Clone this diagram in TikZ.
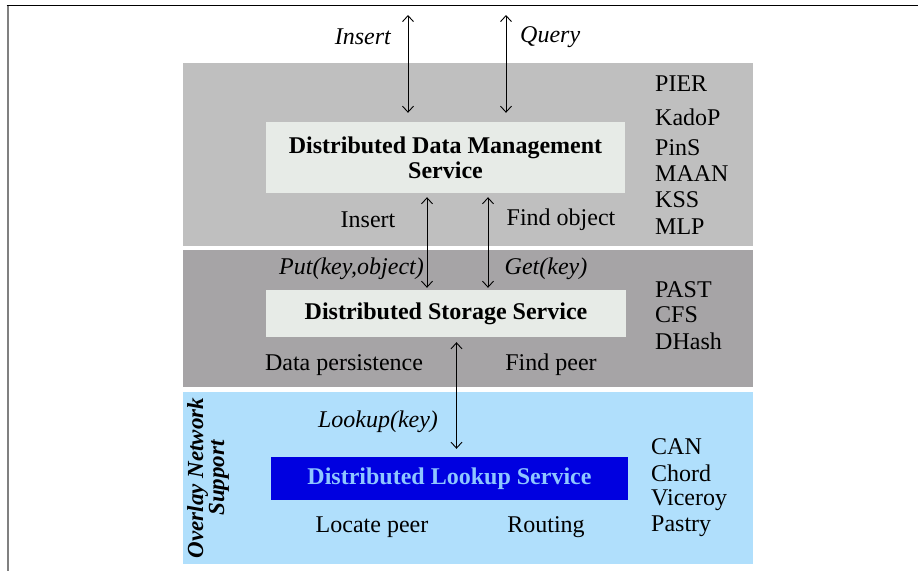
\documentclass[tikz,border=0pt]{standalone}
\usepackage{fontspec}
\setmainfont{Liberation Serif}
\usetikzlibrary{arrows.meta}
\definecolor{layerA}{HTML}{BFBFBF}
\definecolor{layerB}{HTML}{A6A4A6}
\definecolor{layerC}{HTML}{B0DFFC}
\definecolor{boxfill}{HTML}{E7EBE7}
\definecolor{lookupblue}{HTML}{0000E0}
\definecolor{lookuptext}{HTML}{8EC6FF}
\definecolor{framegray}{HTML}{808080}
\tikzset{
  txt/.style={inner sep=0pt, font=\fontsize{24}{27}\selectfont},
  itxt/.style={txt, font=\fontsize{24}{27}\selectfont\itshape},
  svcbox/.style={fill=boxfill, inner sep=0pt, align=center,
    font=\fontsize{24}{27}\selectfont\bfseries},
  dbl/.style={{Straight Barb[length=6pt,width=11pt]}-{Straight Barb[length=6pt,width=11pt]}, line width=0.9pt},
  layer/.style={inner sep=0pt, minimum width=570pt}
}
\begin{document}
\begin{tikzpicture}[x=1pt,y=-1pt]
\useasboundingbox (0,0) rectangle (918,571);
% frame
\draw[framegray, line width=2pt] (7.5,5) -- (7.5,571);
\draw[black, line width=1.6pt] (6.5,5.5) -- (918,5.5);
% layers
\node[layer, fill=layerA, minimum height=183pt] (L1) at (468,154.5) {};
\node[layer, fill=layerB, minimum height=137pt] (L2) at (468,318.5) {};
\node[layer, fill=layerC, minimum height=172pt] (L3) at (468,477.5) {};
% service boxes
\node[svcbox, minimum width=359pt, minimum height=71pt] (ddms) at (445.5,157.5)
  {Distributed Data Management\\[-2pt]Service};
\node[svcbox, minimum width=360pt, minimum height=47pt] (dss) at (446,313.5)
  {Distributed Storage Service};
\node[svcbox, fill=lookupblue, text=lookuptext, minimum width=357pt, minimum height=43pt] (dls) at (449.5,478.5)
  {Distributed Lookup Service};
% top labels
\node[itxt, anchor=east] (linsert) at (391,37) {Insert};
\node[itxt, anchor=west] (lquery) at (520,37) {Query};
% layer 1 labels
\node[txt] (t1) at (368,220) {Insert};
\node[txt] (t2) at (561,220) {Find object};
% layer 2 labels
\node[itxt, anchor=east] (t3) at (424,269) {Put(key,object)};
\node[itxt] (t4) at (546,269) {Get(key)};
\node[txt] (t5) at (344,365) {Data persistence};
\node[txt] (t6) at (551,365) {Find peer};
% layer 3 labels
\node[itxt] (t7) at (378,422) {Lookup(key)};
\node[txt] (t8) at (372,527) {Locate peer};
\node[txt] (t9) at (546,527) {Routing};
\node[rotate=90, align=center, inner sep=0pt, font=\fontsize{23}{21}\selectfont\bfseries\itshape] (ons) at (208,478) {Overlay Network\\Support};
% right lists
\begin{scope}[every node/.style={txt, anchor=west}]
\node (p1) at (655,84) {PIER};
\node (p2) at (655,117) {KadoP};
\node (p3) at (655,148) {PinS};
\node (p4) at (655,174) {MAAN};
\node (p5) at (655,200) {KSS};
\node (p6) at (655,227) {MLP};
\node (s1) at (655,290) {PAST};
\node (s2) at (655,315) {CFS};
\node (s3) at (655,341) {DHash};
\node (c1) at (651,447) {CAN};
\node (c2) at (651,473) {Chord};
\node (c3) at (651,500) {Viceroy};
\node (c4) at (651,526) {Pastry};
\end{scope}
% arrows
\coordinate (insTop) at (408,15);
\coordinate (qryTop) at (506,15);
\coordinate (ax1) at (427,0);
\coordinate (ax2) at (488,0);
\coordinate (ax3) at (456.5,0);
\draw[dbl, shorten >=9pt] (insTop) -- (insTop |- ddms.north);
\draw[dbl, shorten >=9pt] (qryTop) -- (qryTop |- ddms.north);
\draw[dbl, shorten <=4pt, shorten >=2pt] (ax1 |- ddms.south) -- (ax1 |- dss.north);
\draw[dbl, shorten <=4pt, shorten >=2pt] (ax2 |- ddms.south) -- (ax2 |- dss.north);
\draw[dbl, shorten <=5pt, shorten >=8pt] (ax3 |- dss.south) -- (ax3 |- dls.north);
\end{tikzpicture}
\end{document}
